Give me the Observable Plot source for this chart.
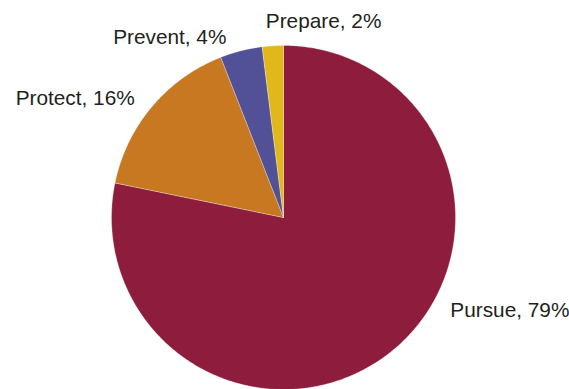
<!DOCTYPE html>
<html><head><meta charset="utf-8">
<script src="https://cdn.jsdelivr.net/npm/d3@7"></script>
<script src="https://cdn.jsdelivr.net/npm/@observablehq/plot@0.6"></script>
<style>body{margin:0;background:#fff}</style>
</head><body><div id="chart"></div>
<script>
const categories = ["Pursue", "Protect", "Prevent", "Prepare"];
const values = [79, 16, 4, 2];
const colors = ["#8E1C3C", "#C87820", "#525096", "#E0B81A"];

// layout (code-level, not data)
const W = 569, H = 389, cx = 283, cy = 217, R = 172;
const labelTweak = {Pursue: {da: -21.7, r: 1.11}, Protect: {da: -1.3, r: 1.11}, Prevent: {da: -3.3, r: 1.10}, Prepare: {da: -1.6, r: 1.145}};

const total = d3.sum(values);
let acc = 0;
const slices = categories.map((c, i) => {
  const a0 = acc / total * 2 * Math.PI; acc += values[i];
  const a1 = acc / total * 2 * Math.PI;
  return {c, v: values[i], a0, a1};
});
const pts = [];
slices.forEach(s => {
  pts.push({c: s.c, x: 0, y: 0});
  const n = Math.max(2, Math.ceil((s.a1 - s.a0) / (Math.PI / 360)));
  for (let k = 0; k <= n; k++) {
    const a = s.a0 + (s.a1 - s.a0) * k / n;
    pts.push({c: s.c, x: Math.sin(a), y: Math.cos(a)});
  }
  pts.push({c: s.c, x: 0, y: 0});
});
const labels = slices.map(s => {
  const t = labelTweak[s.c];
  const a = (s.a0 + s.a1) / 2 + t.da * Math.PI / 180;
  return {text: `${s.c}, ${s.v}%`, x: Math.sin(a) * t.r, y: Math.cos(a) * t.r, anchor: Math.sin(a) > -0.15 ? "start" : "end"};
});
const font = {fontSize: 20.8, fontFamily: "Liberation Sans, Arial, Helvetica, sans-serif", fill: "#231F20"};

const chart = Plot.plot({
  width: W, height: H,
  margin: 0,
  x: {domain: [-cx / R, (W - cx) / R], axis: null},
  y: {domain: [-(H - cy) / R, cy / R], axis: null},
  color: {domain: categories, range: colors},
  marks: [
    Plot.line(pts, {x: "x", y: "y", z: "c", fill: "c", stroke: "white", strokeWidth: 0.3, curve: "linear"}),
    Plot.text(labels.filter(d => d.anchor === "start"), {x: "x", y: "y", text: "text", textAnchor: "start", ...font}),
    Plot.text(labels.filter(d => d.anchor === "end"), {x: "x", y: "y", text: "text", textAnchor: "end", ...font})
  ]
});
document.getElementById("chart").appendChild(chart);
</script>
</body></html>
